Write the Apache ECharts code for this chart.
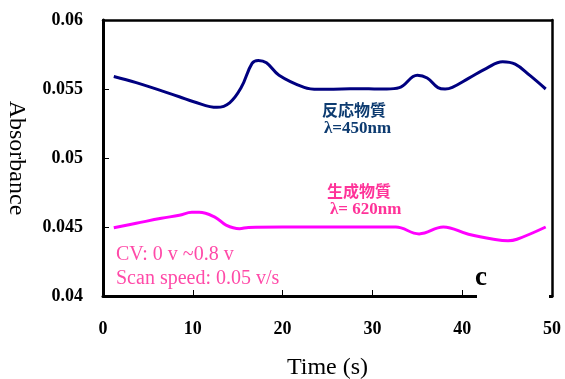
<!DOCTYPE html>
<html>
<head>
<meta charset="utf-8">
<script src="https://cdn.jsdelivr.net/npm/echarts@6/dist/echarts.min.js"></script>
<style>
  html, body { margin: 0; background: #fff; }
  #chart { width: 565px; height: 379px; }
</style>
</head>
<body>
<div id="chart"></div>
<script>
// 反応物質 (450nm)
const reactantTime = [1.2, 3.7, 8.5, 10.1, 12.7, 14.1, 15.4, 16.6, 17.3, 18.2, 19.6, 22.4, 24.0, 26.6, 29.0, 30.2, 31.6, 33.0, 35.0, 36.1, 37.3, 38.1, 38.9, 40.7, 42.7, 44.5, 45.9, 47.5, 49.3];
const reactantAbs = [0.0559, 0.05546, 0.05444, 0.05408, 0.05367, 0.0540, 0.05512, 0.05686, 0.05707, 0.0569, 0.0560, 0.05512, 0.05498, 0.0550, 0.05502, 0.0550, 0.0550, 0.0551, 0.0560, 0.0558, 0.0551, 0.0550, 0.05512, 0.05577, 0.0565, 0.05698, 0.0568, 0.0560, 0.0550];
// 生成物質 (620nm)
const productTime = [1.2, 3.7, 6.5, 8.5, 9.9, 10.7, 12.5, 13.7, 15.2, 16.2, 20, 25, 30, 32.6, 35.2, 37.9, 40.7, 43.5, 45.1, 46.1, 49.3];
const productAbs = [0.04495, 0.04527, 0.04563, 0.04585, 0.04606, 0.04606, 0.0457, 0.04514, 0.04488, 0.04497, 0.045, 0.045, 0.045, 0.045, 0.0445, 0.045, 0.04447, 0.04411, 0.0440, 0.04411, 0.045];

const timeTicks = [0, 10, 20, 30, 40, 50];
const absTicks = [0.04, 0.045, 0.05, 0.055, 0.06];

const serif = "'Liberation Serif', 'Times New Roman', serif";
const cjk = "'Noto Sans CJK JP', sans-serif";

function zip(xs, ys) {
  return xs.map((x, i) => [x, ys[i]]);
}

const chart = echarts.init(document.getElementById('chart'));

const option = {
  animation: false,
  grid: { left: 103, right: 13, top: 20, bottom: 83, outerBoundsMode: 'none', containLabel: false },
  xAxis: [
    {
      type: 'value',
      min: timeTicks[0],
      max: timeTicks[timeTicks.length - 1],
      interval: 10,
      name: 'Time (s)',
      nameLocation: 'middle',
      nameGap: 60,
      nameTextStyle: { fontFamily: serif, fontSize: 24, color: '#000' },
      axisLine: { show: true, lineStyle: { color: '#000', width: 3 } },
      axisTick: { show: true, inside: true, length: 6, lineStyle: { color: '#000', width: 1 } },
      axisLabel: { fontFamily: serif, fontWeight: 'bold', fontSize: 18, color: '#000', margin: 24 },
      splitLine: { show: false }
    },
    {
      type: 'value',
      position: 'top',
      min: timeTicks[0],
      max: timeTicks[timeTicks.length - 1],
      axisLine: { show: true, onZero: false, lineStyle: { color: '#000', width: 2.5 } },
      axisTick: { show: false },
      axisLabel: { show: false },
      splitLine: { show: false }
    }
  ],
  yAxis: [
    {
      type: 'value',
      min: absTicks[0],
      max: absTicks[absTicks.length - 1],
      interval: 0.005,
      name: 'Absorbance',
      nameLocation: 'middle',
      nameRotate: -90,
      nameGap: 75,
      nameTextStyle: { fontFamily: serif, fontSize: 24, color: '#000' },
      axisLine: { show: true, lineStyle: { color: '#000', width: 3 } },
      axisTick: { show: true, inside: true, length: 6, lineStyle: { color: '#000', width: 1 } },
      axisLabel: {
        fontFamily: serif, fontWeight: 'bold', fontSize: 18, color: '#000', margin: 20,
        formatter: v => v.toFixed(3).replace(/0+$/, '')
      },
      splitLine: { show: false }
    },
    {
      type: 'value',
      position: 'right',
      min: absTicks[0],
      max: absTicks[absTicks.length - 1],
      axisLine: { show: true, onZero: false, lineStyle: { color: '#000', width: 2.5 } },
      axisTick: { show: false },
      axisLabel: { show: false },
      splitLine: { show: false }
    }
  ],
  series: [
    {
      name: '反応物質',
      type: 'line',
      smooth: 0.4,
      symbol: 'none',
      data: zip(reactantTime, reactantAbs),
      lineStyle: { color: '#000080', width: 3 }
    },
    {
      name: '生成物質',
      type: 'line',
      smooth: 0.4,
      symbol: 'none',
      data: zip(productTime, productAbs),
      lineStyle: { color: '#ff00ff', width: 3 }
    }
  ],
  graphic: [
    // gap in the bottom axis around the panel letter
    { type: 'rect', shape: { x: 477, y: 292, width: 72, height: 8 }, style: { fill: '#fff' }, z: 100 },
    { type: 'text', x: 322, y: 110, z: 101, style: { text: '反応物質', font: 'bold 16px ' + cjk, fill: '#0d3b70', verticalAlign: 'middle' } },
    { type: 'text', x: 324, y: 129, z: 101, style: { text: 'λ=450nm', font: 'bold 17px ' + serif, fill: '#0d3b70', verticalAlign: 'middle' } },
    { type: 'text', x: 327, y: 191, z: 101, style: { text: '生成物質', font: 'bold 16px ' + cjk, fill: '#ff3399', verticalAlign: 'middle' } },
    { type: 'text', x: 330, y: 210, z: 101, style: { text: 'λ= 620nm', font: 'bold 17px ' + serif, fill: '#ff3399', verticalAlign: 'middle' } },
    { type: 'text', x: 116, y: 255, z: 101, style: { text: 'CV: 0 v ~0.8 v', font: '20px ' + serif, fill: '#ff4aa8', verticalAlign: 'middle' } },
    { type: 'text', x: 116, y: 279, z: 101, style: { text: 'Scan speed: 0.05 v/s', font: '20px ' + serif, fill: '#ff4aa8', verticalAlign: 'middle' } },
    { type: 'text', x: 475, y: 278, z: 101, style: { text: 'c', font: 'bold 27px ' + serif, fill: '#000', verticalAlign: 'middle' } }
  ]
};

chart.setOption(option);
</script>
</body>
</html>
